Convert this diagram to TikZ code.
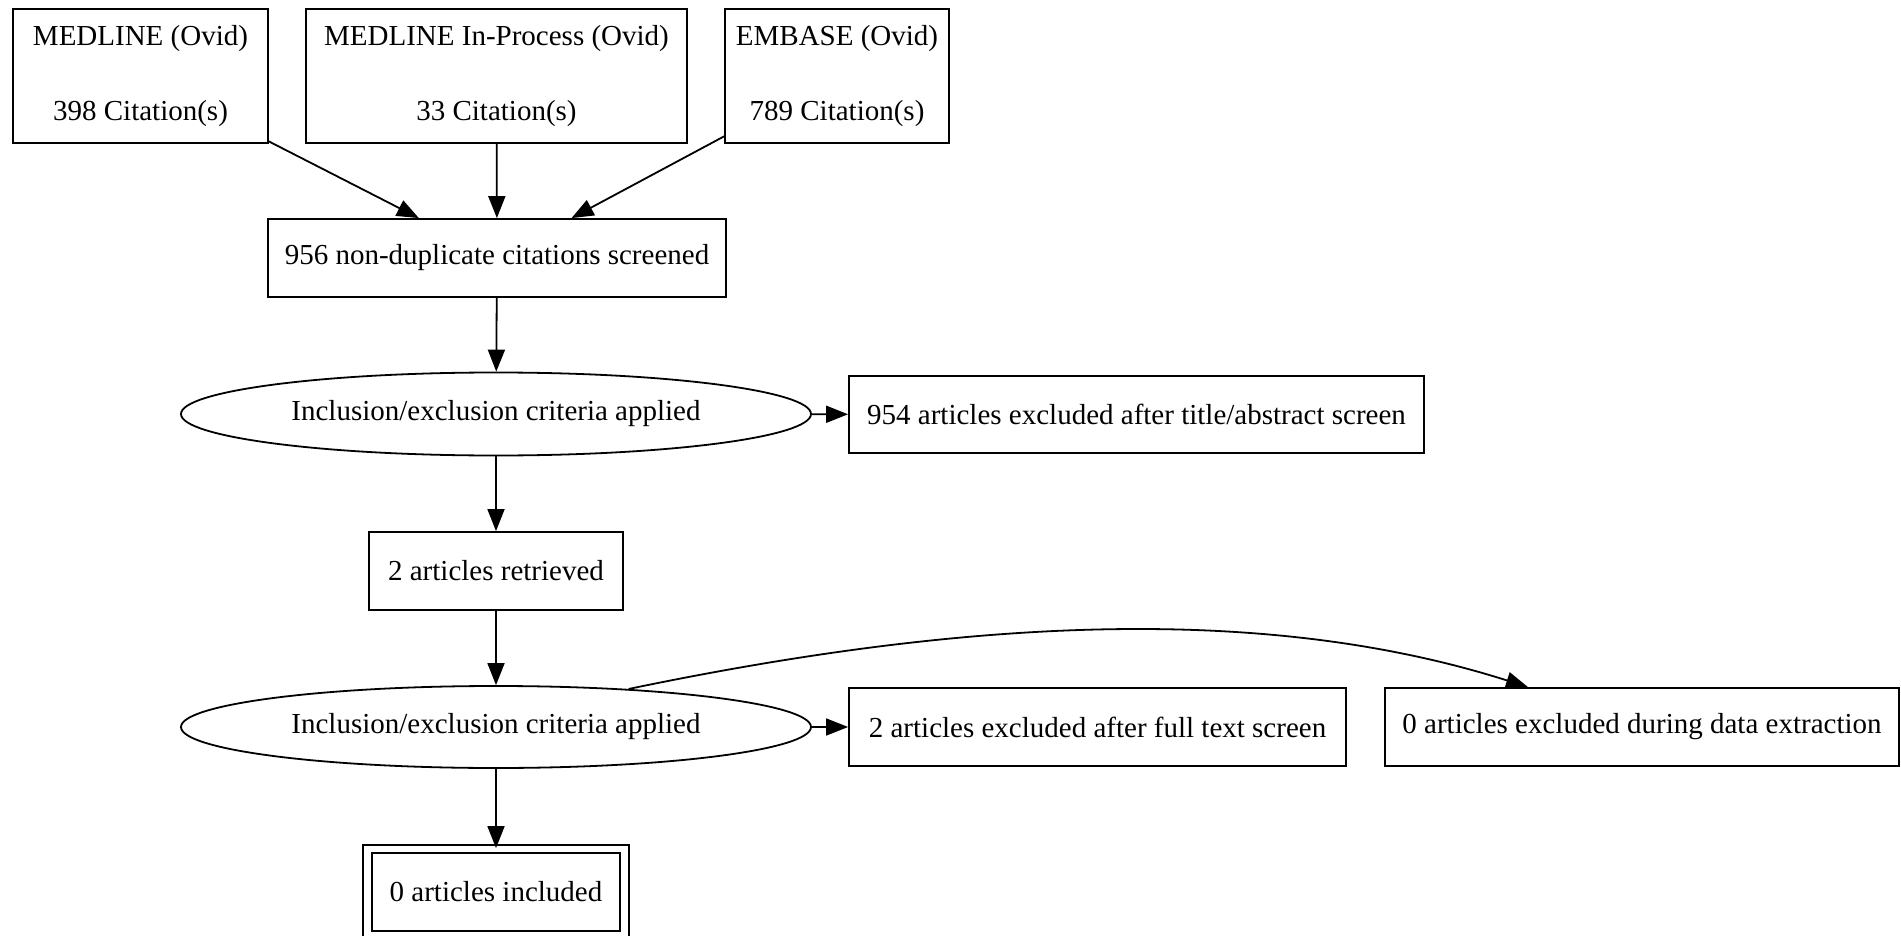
\documentclass[tikz,border=0pt]{standalone}
\usepackage{fontspec}
\setmainfont{Liberation Serif}
\usetikzlibrary{shapes.geometric,arrows.meta}
\begin{document}
\begin{tikzpicture}[x=0.5pt, y=-0.5pt, line width=0.9pt,
	font=\fontsize{14.5}{17.5}\selectfont,
	box/.style={draw, rectangle, minimum height=39pt},
	source/.style={box, minimum height=67pt, align=center},
	oval/.style={draw, ellipse, minimum width=315pt, minimum height=41.5pt},
	flow/.style={-{Triangle[length=11pt, width=8.5pt]}}]
	\useasboundingbox (0, 0) rectangle (1901, 936);

	% databases
	\node[source, minimum width=127.5pt] (medline) at (140.5, 76) {MEDLINE (Ovid)\\[20pt]398 Citation(s)};
	\node[source, minimum width=190.5pt] (inproc) at (496.5, 76) {MEDLINE In-Process (Ovid)\\[20pt]33 Citation(s)};
	\node[source, minimum width=112pt] (embase) at (837, 76) {EMBASE (Ovid)\\[20pt]789 Citation(s)};

	% screening
	\node[box, minimum width=229pt] (screened) at (497, 258) {956 non-duplicate citations screened};
	\node[oval] (crit1) at (496, 414) {Inclusion/exclusion criteria applied};
	\node[box, minimum width=287.5pt, minimum height=38.5pt] (excl1) at (1136.5, 414.5) {954 articles excluded after title/abstract screen};
	\node[box, minimum width=127pt] (retrieved) at (496, 571) {2 articles retrieved};
	\node[oval, minimum height=41pt] (crit2) at (496, 727) {Inclusion/exclusion criteria applied};
	\node[box, minimum width=248.5pt] (excl2) at (1097.5, 727) {2 articles excluded after full text screen};
	\node[box, minimum width=257pt] (excl3) at (1642, 727) {0 articles excluded during data extraction};
	\node[draw, double, double distance=3.25pt, minimum width=128.5pt, minimum height=43pt] (included) at (496, 892) {0 articles included};

	% arrows
	\foreach \src in {medline, inproc, embase}
		\draw[flow] (\src) -- (screened);
	\draw[flow] (screened) -- (crit1);
	\draw[flow] (crit1) -- (excl1);
	\draw[flow] (crit1) -- (retrieved);
	\draw[flow] (retrieved) -- (crit2);
	\draw[flow] (crit2) -- (excl2);
	\draw[flow] (crit2) -- (included);
	\draw[flow] (crit2.16) .. controls (960, 620) and (1260, 602) .. ([xshift=-57pt]excl3.north);
\end{tikzpicture}
\end{document}
